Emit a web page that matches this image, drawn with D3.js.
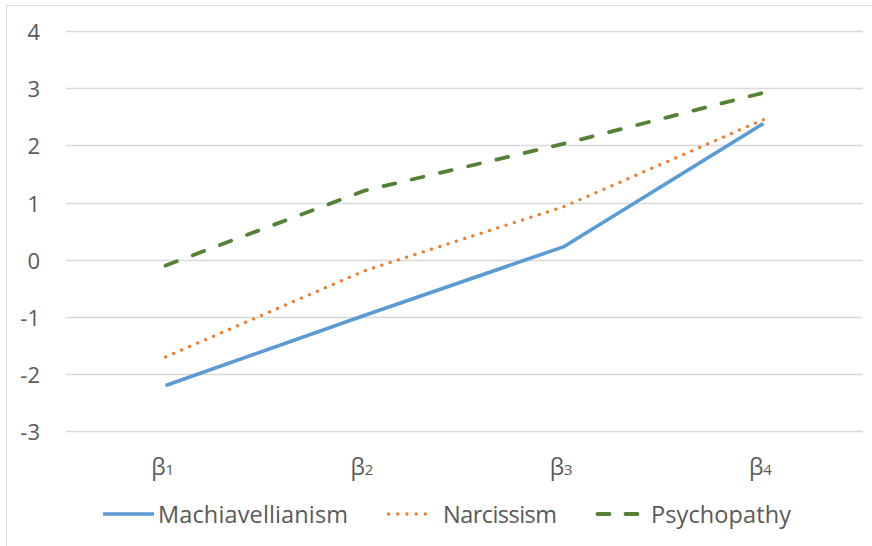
<!DOCTYPE html>
<html><head><meta charset="utf-8">
<script src="https://cdn.jsdelivr.net/npm/d3@7"></script>
<style>body{margin:0;background:#fff;} svg{display:block;}</style>
</head><body>
<svg id="c" width="872" height="546"></svg>
<script>
const categories = ["1","2","3","4"];
const seriesNames = ["Machiavellianism","Narcissism","Psychopathy"];
const machiavellianism = [-2.2, -0.97, 0.23, 2.38];
const narcissism = [-1.7, -0.19, 0.93, 2.45];
const psychopathy = [-0.1, 1.21, 2.03, 2.92];
const yTicks = [-3,-2,-1,0,1,2,3,4];
const colors = ["#5B9BD5","#ED7D31","#548235"];

const svg = d3.select("#c");
const font = "'Open Sans', sans-serif";
const txt = "#595959";

svg.append("rect").attr("x",6.5).attr("y",5.5).attr("width",900).attr("height",600)
  .attr("fill","#fff").attr("stroke","#d9d9d9").attr("stroke-width",1);

const x = d3.scalePoint().domain(categories).range([66,863]).padding(0.5);
const y = d3.scaleLinear().domain([-3,4]).range([431.3,31]);

// gridlines
svg.append("g").selectAll("line").data(yTicks).join("line")
  .attr("x1",66).attr("x2",863)
  .attr("y1",d=>Math.round(y(d))+0.5).attr("y2",d=>Math.round(y(d))+0.5)
  .attr("stroke","#d9d9d9").attr("stroke-width",1.3);

// y labels
svg.append("g").selectAll("text").data(yTicks).join("text")
  .attr("x",40).attr("y",d=>y(d)).attr("text-anchor","end").attr("dominant-baseline","central")
  .attr("font-family",font).attr("font-size",22).attr("fill",txt).text(d=>d);

// x labels
const xl = svg.append("g").selectAll("text").data(categories).join("text")
  .attr("x",d=>x(d)-3).attr("y",475).attr("text-anchor","middle")
  .attr("font-family",font).attr("font-size",23).attr("fill",txt);
xl.append("tspan").text("β");
xl.append("tspan").attr("font-size",15).text(d=>d);

const seriesData = [machiavellianism, narcissism, psychopathy];
const dashes = [null, "0.1,8.6", "12,17"];
const widths = [3.6, 3.3, 3.8];
const line = d3.line().x((d,i)=>x(categories[i])).y(d=>y(d));
seriesData.forEach((s,k)=>{
  svg.append("path").datum(s).attr("d",line).attr("fill","none")
    .attr("stroke",colors[k]).attr("stroke-width",widths[k])
    .attr("stroke-linecap",k===0?"butt":"round").attr("stroke-linejoin","round")
    .attr("stroke-dasharray",dashes[k]);
});

// legend
const legX = [103, 387, 596];
const legW = [51, 46, 44];
const legTextX = [158, 443, 651];
const legTextW = [190, 114, 140];
const legDash = [null, "0.1,9.1", "12,16"];
seriesNames.forEach((n,k)=>{
  svg.append("line").attr("x1",legX[k]+(k>0?1.5:0)).attr("x2",legX[k]+legW[k]-(k>0?1.5:0))
    .attr("y1",514).attr("y2",514).attr("stroke",colors[k]).attr("stroke-width",widths[k])
    .attr("stroke-linecap",k===0?"butt":"round").attr("stroke-dasharray",legDash[k]);
  svg.append("text").attr("x",legTextX[k]).attr("y",523).attr("font-family",font)
    .attr("font-size",23.5).attr("fill",txt).attr("textLength",legTextW[k]).text(n);
});
</script>
</body></html>
